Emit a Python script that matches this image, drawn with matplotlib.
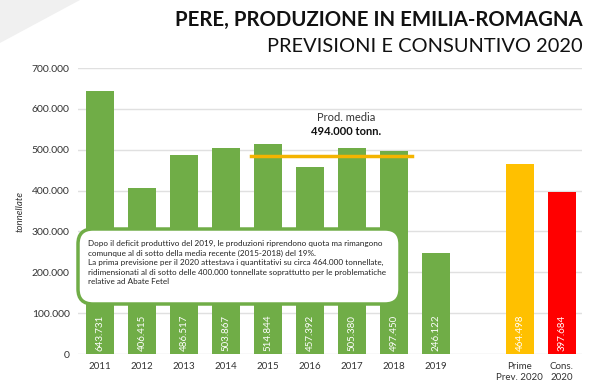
import matplotlib
matplotlib.use("Agg")
import matplotlib.pyplot as plt
from matplotlib.patches import FancyBboxPatch, Polygon
import numpy as np

plt.rcParams['font.family'] = ['Lato', 'DejaVu Sans']

# data
categories = ['2011', '2012', '2013', '2014', '2015', '2016', '2017', '2018', '2019',
              '', 'Prime\nPrev. 2020', 'Cons.\n2020']
values = [643731, 406415, 486517, 503867, 514844, 457392, 505380, 497450, 246122,
          None, 464498, 397684]
kinds = ['cons'] * 9 + [None, 'prev', 'final']
mean_level = 485000          # where the average line sits in the picture
mean_label = '494.000 tonn.'
note_lines = [
    "Dopo il deficit produttivo del 2019, le produzioni riprendono quota ma rimangono",
    "comunque al di sotto della media recente (2015-2018) del 19%.",
    "La prima previsione per il 2020 attestava i quantitativi su circa 464.000 tonnellate,",
    "ridimensionati al di sotto delle 400.000 tonnellate soprattutto per le problematiche",
    "relative ad Abate Fetel",
]

colors = {'cons': '#70AD47', 'prev': '#FFC000', 'final': '#FF0000'}

fig = plt.figure(figsize=(6, 3.86), dpi=100)

# light grey corner shape
fig.patches.append(Polygon([(0, 1), (80 / 600, 1), (0, 1 - 43 / 386)], closed=True,
                           transform=fig.transFigure, fc='#f0f0f0', ec='none', zorder=0))

ax = fig.add_axes([78 / 600, 0.0829, 504 / 600, 0.7409])
x = np.arange(len(categories))

for i, (v, k) in enumerate(zip(values, kinds)):
    if v is None:
        continue
    ax.bar(i, v, width=0.66, color=colors[k], zorder=2)
    ax.text(i, 51000, f"{v:,}".replace(",", "."), rotation=90, ha='center', va='center',
            color='white', fontsize=7, zorder=5)

ax.set_xlim(-0.52, 11.48)
ax.set_ylim(0, 700000)
yt = np.arange(0, 700001, 100000)
ax.set_yticks(yt)
ax.set_yticklabels(['0'] + [f"{int(t / 1000)}.000" for t in yt[1:]], fontsize=7.5, color='#333333')
ax.set_xticks(x)
ax.set_xticklabels(categories, fontsize=7, color='#333333')
ax.tick_params(length=0, pad=6)
ax.grid(axis='y', color='#e0e0e0', lw=1, zorder=0)
for s in ax.spines.values():
    s.set_visible(False)
ax.set_ylabel('tonnellate', fontsize=7, style='italic', labelpad=5, color='#333333')

# average line
ax.plot([3.6, 7.43], [mean_level, mean_level], color='#F4B400', lw=2.5, zorder=4)
ax.text(5.87, 578000, 'Prod. media', ha='center', va='center', fontsize=8, color='#333333')
ax.text(5.87, 544000, mean_label, ha='center', va='center', fontsize=8, fontweight='bold',
        color='#111111')

# note box
box = FancyBboxPatch((78 / 600, 1 - 304 / 386), 322 / 600, 75 / 386,
                     boxstyle='round,pad=0,rounding_size=0.025', mutation_aspect=600 / 386,
                     transform=fig.transFigure, fc='white', ec='#70AD47', lw=2.5, zorder=6)
fig.patches.append(box)
fig.text(88 / 600, 1 - 240 / 386, "\n".join(note_lines), ha='left', va='top', fontsize=5.85,
         linespacing=1.4, color='#222222', zorder=7)

# titles
fig.text(583 / 600, 1 - 20 / 386, 'PERE, PRODUZIONE IN EMILIA-ROMAGNA', ha='right', va='center',
         fontsize=14.7, fontweight='bold', color='#111111')
fig.text(583 / 600, 1 - 47 / 386, 'PREVISIONI E CONSUNTIVO 2020', ha='right', va='center',
         fontsize=14.4, color='#111111')

fig.savefig('out.png', dpi=100)
